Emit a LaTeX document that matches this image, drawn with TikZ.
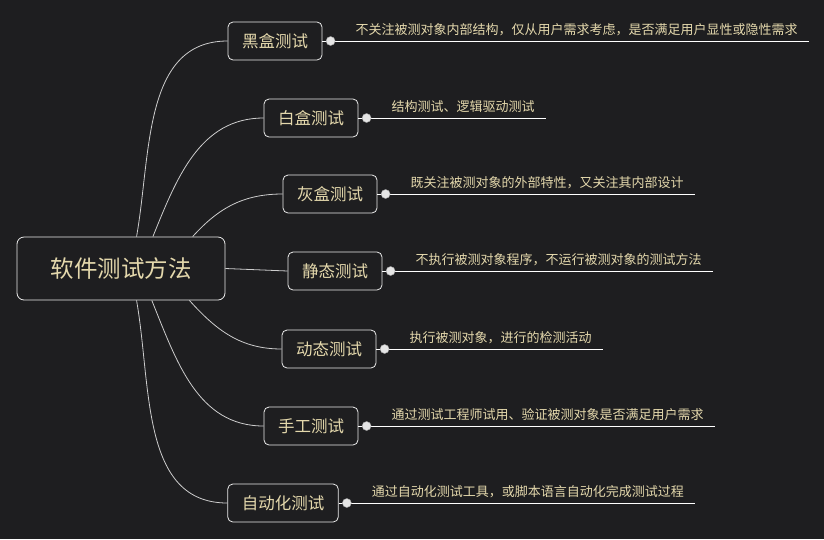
\documentclass[tikz,border=0pt]{standalone}
\usepackage{fontspec}
\setmainfont{Noto Sans CJK SC}
\usetikzlibrary{positioning}
\definecolor{bgdark}{HTML}{1E1E20}
\definecolor{txtgold}{RGB}{228,216,172}
\definecolor{linegray}{RGB}{205,205,205}

\begin{document}
\begin{tikzpicture}[x=1pt, y=1pt,
    topic/.style={draw=white!92!black, line width=0.8pt, rounded corners=5pt, text=txtgold, font=\fontsize{16.5}{18}\selectfont, minimum height=38pt, inner xsep=14pt},
    note/.style={text=txtgold, font=\fontsize{13}{15}\selectfont, inner sep=0pt, anchor=south west},
    knob/.style={circle, fill=white!90!black, draw=gray!70, line width=0.4pt, inner sep=0pt, minimum size=9pt},
    branch/.style={draw=linegray, line width=0.8pt},
    underline/.style={draw=white, line width=0.9pt}]
    \fill[bgdark] (0,0) rectangle (824,-539);
    \useasboundingbox (0,0) rectangle (824,-539);

    % root
    \node[draw=white!92!black, line width=0.8pt, rounded corners=7pt, text=txtgold, font=\fontsize{23.5}{26}\selectfont, minimum width=208pt, minimum height=63pt] (root) at (121,-268.5) {软件测试方法};

    % branches
    \node[topic] (hei) at (275,-41) {黑盒测试};
    \node[topic] (bai) at (311,-118) {白盒测试};
    \node[topic] (hui) at (330,-194) {灰盒测试};
    \node[topic] (jing) at (335,-271) {静态测试};
    \node[topic] (dong) at (329,-349) {动态测试};
    \node[topic] (shou) at (311,-426) {手工测试};
    \node[topic] (zidong) at (283,-503) {自动化测试};

    \draw[branch] (root.64.5) to[out=80, in=180] (hei.west);
    \draw[branch] (root.45.5) to[out=68, in=180] (bai.west);
    \draw[branch] (root.24.2) to[out=48, in=180] (hui.west);
    \draw[branch] (root.east) -- (jing.west);
    \draw[branch] (root.-25.9) to[out=-48, in=180] (dong.west);
    \draw[branch] (root.-46.4) to[out=-68, in=180] (shou.west);
    \draw[branch] (root.-64.5) to[out=-80, in=180] (zidong.west);

    % notes
    \node[note, above right=5pt and 20pt of hei.east, xshift=13pt] (heitxt) {不关注被测对象内部结构，仅从用户需求考虑，是否满足用户显性或隐性需求};
    \node[note, above right=5pt and 20pt of bai.east, xshift=13pt] (baitxt) {结构测试、逻辑驱动测试};
    \node[note, above right=5pt and 20pt of hui.east, xshift=13pt] (huitxt) {既关注被测对象的外部特性，又关注其内部设计};
    \node[note, above right=5pt and 20pt of jing.east, xshift=13pt] (jingtxt) {不执行被测对象程序，不运行被测对象的测试方法};
    \node[note, above right=5pt and 20pt of dong.east, xshift=13pt] (dongtxt) {执行被测对象，进行的检测活动};
    \node[note, above right=5pt and 20pt of shou.east, xshift=13pt] (shoutxt) {通过测试工程师试用、验证被测对象是否满足用户需求};
    \node[note, above right=5pt and 20pt of zidong.east, xshift=13pt] (zidongtxt) {通过自动化测试工具，或脚本语言自动化完成测试过程};

    \coordinate[right=11pt of heitxt.east] (heiend);
    \coordinate[right=11pt of baitxt.east] (baiend);
    \coordinate[right=11pt of huitxt.east] (huiend);
    \coordinate[right=11pt of jingtxt.east] (jingend);
    \coordinate[right=11pt of dongtxt.east] (dongend);
    \coordinate[right=11pt of shoutxt.east] (shouend);
    \coordinate[right=11pt of zidongtxt.east] (zidongend);

    \draw[underline] (hei.east) -- (hei.east -| heiend);
    \draw[underline] (bai.east) -- (bai.east -| baiend);
    \draw[underline] (hui.east) -- (hui.east -| huiend);
    \draw[underline] (jing.east) -- (jing.east -| jingend);
    \draw[underline] (dong.east) -- (dong.east -| dongend);
    \draw[underline] (shou.east) -- (shou.east -| shouend);
    \draw[underline] (zidong.east) -- (zidong.east -| zidongend);

    % collapse knobs
    \node[knob, right=3.5pt of hei] (heidot) {};
    \node[knob, right=3.5pt of bai] (baidot) {};
    \node[knob, right=3.5pt of hui] (huidot) {};
    \node[knob, right=3.5pt of jing] (jingdot) {};
    \node[knob, right=3.5pt of dong] (dongdot) {};
    \node[knob, right=3.5pt of shou] (shoudot) {};
    \node[knob, right=3.5pt of zidong] (zidongdot) {};
\end{tikzpicture}
\end{document}
